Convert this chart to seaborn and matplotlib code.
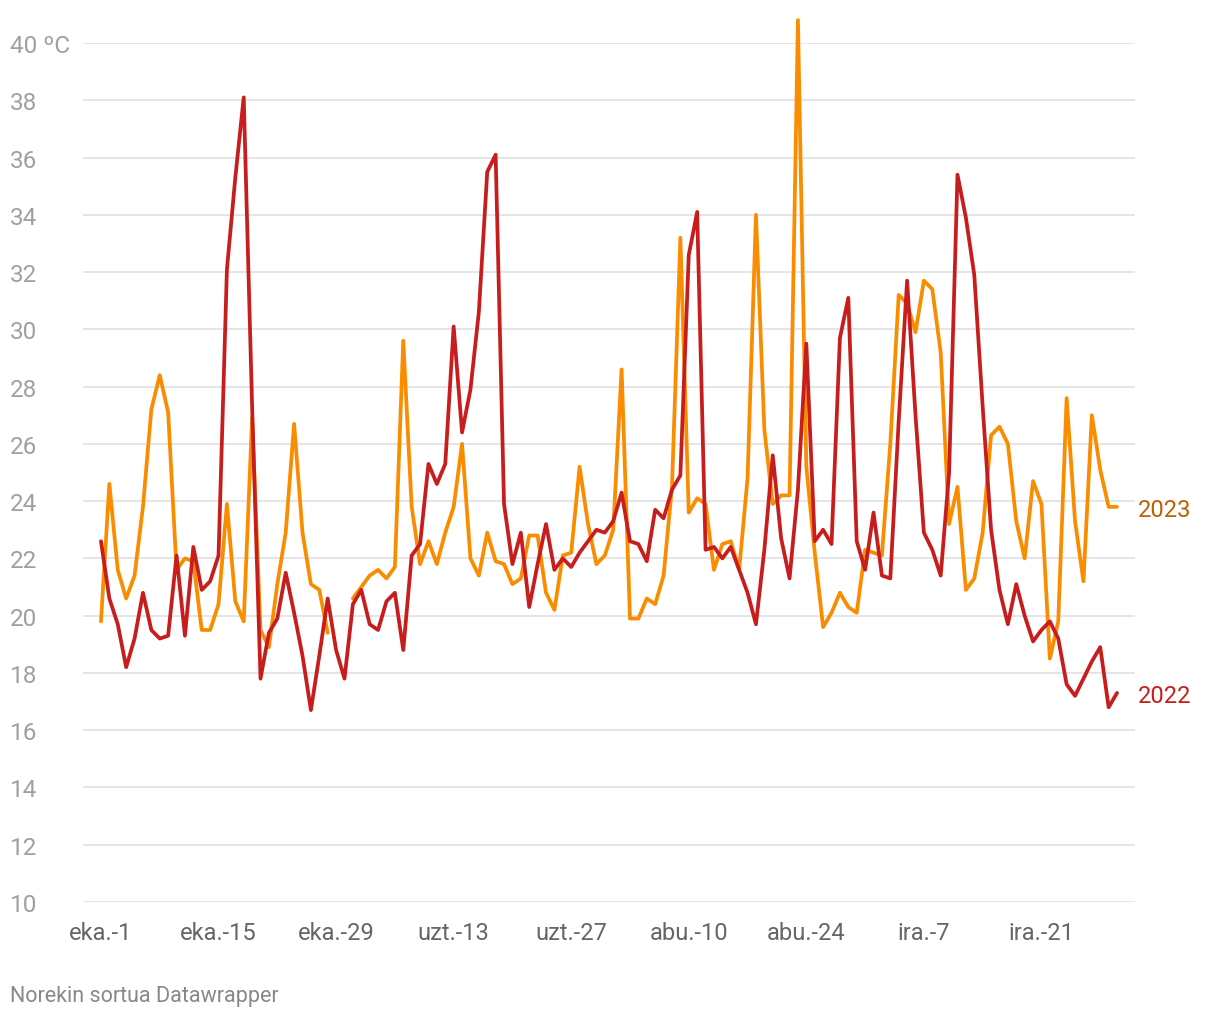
import numpy as np
import pandas as pd
import matplotlib
matplotlib.use("Agg")
import matplotlib.pyplot as plt
import matplotlib.transforms as mtransforms
import seaborn as sns

sns.set_theme(style="white")
plt.rcParams['font.family'] = ['Roboto', 'DejaVu Sans']

nan = np.nan
temp_2022 = [22.6, 20.6, 19.7, 18.2, 19.2, 20.8, 19.5, 19.2, 19.3, 22.1,
             19.3, 22.4, 20.9, 21.2, 22.1, 32.1, 35.3, 38.1, 27.3, 17.8,
             19.4, 19.9, 21.5, 20.1, 18.6, 16.7, 18.6, 20.6, 18.8, 17.8,
             20.4, 20.9, 19.7, 19.5, 20.5, 20.8, 18.8, 22.1, 22.5, 25.3,
             24.6, 25.3, 30.1, 26.4, 27.9, 30.6, 35.5, 36.1, 23.9, 21.8,
             22.9, 20.3, 21.8, 23.2, 21.6, 22.0, 21.7, 22.2, 22.6, 23.0,
             22.9, 23.3, 24.3, 22.6, 22.5, 21.9, 23.7, 23.4, 24.4, 24.9,
             32.6, 34.1, 22.3, 22.4, 22.0, 22.4, 21.6, 20.8, 19.7, 22.3,
             25.6, 22.7, 21.3, 24.4, 29.5, 22.6, 23.0, 22.5, 29.7, 31.1,
             22.6, 21.6, 23.6, 21.4, 21.3, 26.8, 31.7, 27.0, 22.9, 22.3,
             21.4, 25.0, 35.4, 33.9, 31.9, 27.3, 23.0, 20.9, 19.7, 21.1,
             20.0, 19.1, 19.5, 19.8, 19.2, 17.6, 17.2, 17.8, 18.4, 18.9,
             16.8, 17.3]
temp_2023 = [19.8, 24.6, 21.6, 20.6, 21.4, 23.8, 27.2, 28.4, 27.1, 21.6,
             22.0, 21.9, 19.5, 19.5, 20.4, 23.9, 20.5, 19.8, 26.9, 19.5,
             18.9, 21.1, 22.9, 26.7, 22.9, 21.1, 20.9, 19.4, nan, nan,
             20.6, 21.0, 21.4, 21.6, 21.3, 21.7, 29.6, 23.8, 21.8, 22.6,
             21.8, 22.9, 23.8, 26.0, 22.0, 21.4, 22.9, 21.9, 21.8, 21.1,
             21.3, 22.8, 22.8, 20.8, 20.2, 22.1, 22.2, 25.2, 23.2, 21.8,
             22.1, 23.0, 28.6, 19.9, 19.9, 20.6, 20.4, 21.4, 24.5, 33.2,
             23.6, 24.1, 23.9, 21.6, 22.5, 22.6, 21.6, 24.8, 34.0, 26.5,
             23.9, 24.2, 24.2, 40.8, 25.2, 22.2, 19.6, 20.1, 20.8, 20.3,
             20.1, 22.3, 22.2, 22.1, 26.0, 31.2, 30.9, 29.9, 31.7, 31.4,
             29.2, 23.2, 24.5, 20.9, 21.3, 22.9, 26.3, 26.6, 26.0, 23.3,
             22.0, 24.7, 23.9, 18.5, 19.8, 27.6, 23.3, 21.2, 27.0, 25.1,
             23.8, 23.8]
tick_days = [0, 14, 28, 42, 56, 70, 84, 98, 112]
tick_labels = ["eka.-1", "eka.-15", "eka.-29", "uzt.-13", "uzt.-27",
               "abu.-10", "abu.-24", "ira.-7", "ira.-21"]
y_ticks = list(range(10, 41, 2))
y_labels = [str(v) for v in y_ticks[:-1]] + ["40 ºC"]

c2022 = "#c71e1d"
c2023 = "#fa8c00"
c2023_text = "#c05f00"

days = np.arange(len(temp_2022))


def make_df(vals, name):
    v = np.array(vals, dtype=float)
    seg = np.cumsum(np.isnan(v))  # new segment after every gap
    d = pd.DataFrame({"day": days, "temp": v, "seg": seg, "year": name})
    return d.dropna()


df22 = make_df(temp_2022, "2022")
df23 = make_df(temp_2023, "2023")

fig = plt.figure(figsize=(12.2, 10.2), dpi=100)
ax = fig.add_axes([83 / 1220, 1 - 903 / 1020, (1135 - 83) / 1220, (903 - 44) / 1020])

for y in y_ticks:
    ax.axhline(y, color="#e3e3e3", lw=1.3, zorder=0)

for d, col in [(df23, c2023), (df22, c2022)]:
    sns.lineplot(data=d, x="day", y="temp", units="seg", estimator=None,
                 ax=ax, color=col, lw=2.7, legend=False, clip_on=False,
                 zorder=3)

ax.set_xlim(-2.14, 123.14)
ax.set_ylim(10, 40)
for s in ax.spines.values():
    s.set_visible(False)
ax.set_xlabel("")
ax.set_ylabel("")
ax.set_xticks(tick_days)
ax.set_xticklabels(tick_labels, fontsize=17, color="#666666")
ax.tick_params(axis="x", length=0, pad=14)
ax.set_yticks([])

blend = mtransforms.blended_transform_factory(fig.transFigure, ax.transData)
for y, lab in zip(y_ticks, y_labels):
    ax.text(10 / 1220, y, lab, transform=blend, ha="left",
            va="center_baseline", fontsize=17.5, color="#a0a0a0")

ax.text(123.5, temp_2023[-1], "2023", ha="left", va="center_baseline",
        fontsize=17, color=c2023_text, clip_on=False)
ax.text(123.5, temp_2022[-1], "2022", ha="left", va="center_baseline",
        fontsize=17, color=c2022, clip_on=False)

fig.text(10 / 1220, 1 - 997 / 1020, "Norekin sortua Datawrapper", ha="left",
         va="center", fontsize=15.5, color="#888888")

fig.savefig("out.png", dpi=100, facecolor="white")
